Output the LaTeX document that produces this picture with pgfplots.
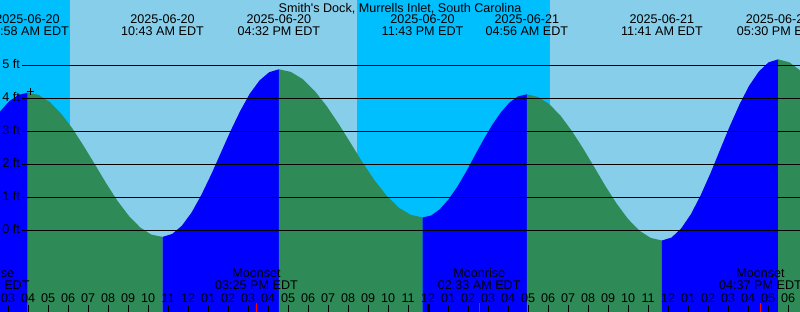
\documentclass[border=0pt]{standalone}
\usepackage{fontspec}
\setmainfont{Liberation Sans}
\usepackage{pgfplots}
\pgfplotsset{compat=1.18}
\definecolor{nightsky}{RGB}{0,191,255}
\definecolor{daysky}{RGB}{135,206,235}
\definecolor{risefill}{RGB}{0,0,255}
\definecolor{fallfill}{RGB}{46,139,87}
\newcommand{\lbl}{\fontsize{12.6bp}{15bp}\selectfont}
\begin{document}
\begin{tikzpicture}[font=\lbl]
\useasboundingbox (0,0) rectangle (800bp,312bp);
\clip (0,0) rectangle (800bp,312bp);
\begin{axis}[
  at={(0,0)}, anchor=south west,
  scale only axis, width=800bp, height=312bp,
  xmin=2.59, xmax=42.59, ymin=-2.476, ymax=6.979,
  axis background/.style={fill=daysky},
  axis line style={draw=none},
  ytick=\empty,
  xtick={3,...,42},
  xticklabels={03,04,05,06,07,08,09,10,11,12,01,02,03,04,05,06,07,08,09,10,11,12,01,02,03,04,05,06,07,08,09,10,11,12,01,02,03,04,05,06},
  xtick pos=left,
  tick align=inside,
  major tick length=7bp,
  tick style={black, line width=1bp},
  xticklabel style={anchor=base, yshift=9.7bp, font=\lbl, inner sep=0pt},
  axis on top,
]
% night
\addplot[fill=nightsky, draw=none] coordinates {(2.0,-3) (2.0,8) (6.09,8) (6.09,-3)} -- cycle;
\addplot[fill=nightsky, draw=none] coordinates {(20.43,-3) (20.43,8) (30.09,8) (30.09,-3)} -- cycle;
% tide: rising blue, falling green
\addplot[fill=risefill, draw=none] coordinates {(2.135,-3) (2.135,3.20) (2.593,3.60) (3.051,3.91) (3.509,4.10) (3.967,4.17) (3.967,-3)} -- cycle;
\addplot[fill=fallfill, draw=none] coordinates {(3.967,-3) (3.967,4.17) (4.529,4.10) (5.092,3.88) (5.654,3.53) (6.217,3.08) (6.779,2.55) (7.342,1.99) (7.904,1.42) (8.467,0.89) (9.029,0.44) (9.592,0.09) (10.154,-0.13) (10.717,-0.20) (10.717,-3)} -- cycle;
\addplot[fill=risefill, draw=none] coordinates {(10.717,-3) (10.717,-0.20) (11.202,-0.11) (11.686,0.14) (12.171,0.54) (12.656,1.07) (13.141,1.68) (13.625,2.34) (14.110,3.00) (14.595,3.61) (15.080,4.14) (15.564,4.54) (16.049,4.79) (16.533,4.88) (16.533,-3)} -- cycle;
\addplot[fill=fallfill, draw=none] coordinates {(16.533,-3) (16.533,4.88) (17.132,4.80) (17.730,4.58) (18.329,4.22) (18.928,3.76) (19.527,3.22) (20.125,2.64) (20.724,2.05) (21.323,1.51) (21.921,1.05) (22.520,0.69) (23.118,0.47) (23.717,0.39) (23.717,-3)} -- cycle;
\addplot[fill=risefill, draw=none] coordinates {(23.717,-3) (23.717,0.39) (24.152,0.45) (24.586,0.64) (25.021,0.94) (25.456,1.32) (25.891,1.77) (26.325,2.26) (26.760,2.74) (27.195,3.19) (27.629,3.57) (28.064,3.87) (28.498,4.06) (28.933,4.12) (28.933,-3)} -- cycle;
\addplot[fill=fallfill, draw=none] coordinates {(28.933,-3) (28.933,4.12) (29.496,4.04) (30.058,3.82) (30.621,3.47) (31.183,3.01) (31.746,2.48) (32.308,1.91) (32.871,1.33) (33.433,0.80) (33.996,0.34) (34.558,-0.01) (35.121,-0.23) (35.683,-0.31) (35.683,-3)} -- cycle;
\addplot[fill=risefill, draw=none] coordinates {(35.683,-3) (35.683,-0.31) (36.168,-0.22) (36.653,0.06) (37.137,0.49) (37.622,1.06) (38.107,1.72) (38.592,2.44) (39.076,3.15) (39.561,3.81) (40.046,4.38) (40.530,4.81) (41.015,5.09) (41.500,5.18) (41.500,-3)} -- cycle;
\addplot[fill=fallfill, draw=none] coordinates {(41.500,-3) (41.500,5.18) (42.063,5.09) (42.625,4.83) (42.625,-3)} -- cycle;
% grid lines
\addplot[black, line width=1bp] coordinates {(3.69,0) (43,0)};
\addplot[black, line width=1bp] coordinates {(3.69,1) (43,1)};
\addplot[black, line width=1bp] coordinates {(3.69,2) (43,2)};
\addplot[black, line width=1bp] coordinates {(3.69,3) (43,3)};
\addplot[black, line width=1bp] coordinates {(3.69,4) (43,4)};
\addplot[black, line width=1bp] coordinates {(3.69,5) (43,5)};
% marker
\addplot[only marks, mark=+, mark size=3.5bp, black, line width=1bp] coordinates {(4.09,4.20)};
% moon event ticks and midnight tick
\addplot[red, line width=1bp] coordinates {(15.417,-2.476) (15.417,-2.21)};
\addplot[red, line width=1bp] coordinates {(26.55,-2.476) (26.55,-2.21)};
\addplot[red, line width=1bp] coordinates {(40.617,-2.476) (40.617,-2.21)};
\addplot[black, line width=3.3bp] coordinates {(24,-2.476) (24,-2.23)};
% y labels
\node[anchor=base east, inner sep=0pt] at (axis cs:3.59,-0.1) {0 ft};
\node[anchor=base east, inner sep=0pt] at (axis cs:3.59,0.9) {1 ft};
\node[anchor=base east, inner sep=0pt] at (axis cs:3.59,1.9) {2 ft};
\node[anchor=base east, inner sep=0pt] at (axis cs:3.59,2.9) {3 ft};
\node[anchor=base east, inner sep=0pt] at (axis cs:3.59,3.9) {4 ft};
\node[anchor=base east, inner sep=0pt] at (axis cs:3.59,4.9) {5 ft};
% title
\node[anchor=base, inner sep=0pt] at (axis cs:22.59,6.606) {Smith\textquotesingle s Dock, Murrells Inlet, South Carolina};
% tide event labels
\node[anchor=base, inner sep=0pt] at (axis cs:3.967,6.258) {2025-06-20};
\node[anchor=base, inner sep=0pt] at (axis cs:3.967,5.903) {03:58 AM EDT};
\node[anchor=base, inner sep=0pt] at (axis cs:10.717,6.258) {2025-06-20};
\node[anchor=base, inner sep=0pt] at (axis cs:10.717,5.903) {10:43 AM EDT};
\node[anchor=base, inner sep=0pt] at (axis cs:16.533,6.258) {2025-06-20};
\node[anchor=base, inner sep=0pt] at (axis cs:16.533,5.903) {04:32 PM EDT};
\node[anchor=base, inner sep=0pt] at (axis cs:23.717,6.258) {2025-06-20};
\node[anchor=base, inner sep=0pt] at (axis cs:23.717,5.903) {11:43 PM EDT};
\node[anchor=base, inner sep=0pt] at (axis cs:28.933,6.258) {2025-06-21};
\node[anchor=base, inner sep=0pt] at (axis cs:28.933,5.903) {04:56 AM EDT};
\node[anchor=base, inner sep=0pt] at (axis cs:35.683,6.258) {2025-06-21};
\node[anchor=base, inner sep=0pt] at (axis cs:35.683,5.903) {11:41 AM EDT};
\node[anchor=base, inner sep=0pt] at (axis cs:41.5,6.258) {2025-06-21};
\node[anchor=base, inner sep=0pt] at (axis cs:41.5,5.903) {05:30 PM EDT};
% moon labels
\node[anchor=base, inner sep=0pt] at (axis cs:2.0,-1.424) {Moonrise};
\node[anchor=base, inner sep=0pt] at (axis cs:2.0,-1.788) {02:01 AM EDT};
\node[anchor=base, inner sep=0pt] at (axis cs:15.417,-1.424) {Moonset};
\node[anchor=base, inner sep=0pt] at (axis cs:15.417,-1.788) {03:25 PM EDT};
\node[anchor=base, inner sep=0pt] at (axis cs:26.55,-1.424) {Moonrise};
\node[anchor=base, inner sep=0pt] at (axis cs:26.55,-1.788) {02:33 AM EDT};
\node[anchor=base, inner sep=0pt] at (axis cs:40.617,-1.424) {Moonset};
\node[anchor=base, inner sep=0pt] at (axis cs:40.617,-1.788) {04:37 PM EDT};
\end{axis}
\end{tikzpicture}
\end{document}
